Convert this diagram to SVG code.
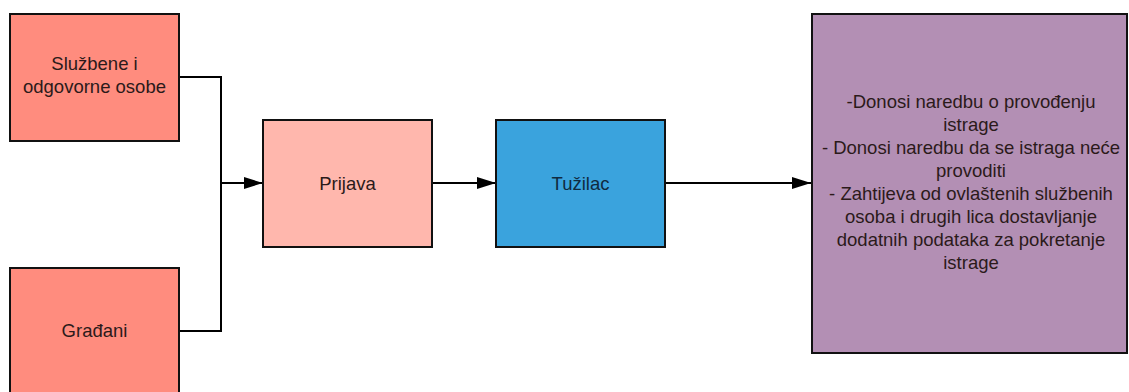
<svg xmlns="http://www.w3.org/2000/svg" width="1129" height="392" viewBox="0 0 1129 392">
<style>
.box{stroke:#111;stroke-width:2}
.lbl{font-family:"Liberation Sans",Arial,sans-serif;font-size:18.5px;fill:#2b1a1a;text-anchor:middle}
.con{fill:none;stroke:#000;stroke-width:2}
</style>
<defs>
<marker id="arr" markerUnits="userSpaceOnUse" markerWidth="20" markerHeight="14" refX="19" refY="7" orient="auto">
<path d="M0,1 L19,7 L0,13 Z" fill="#000"/>
</marker>
</defs>
<rect width="1129" height="392" fill="#fff"/>
<g id="connectors">
<polyline class="con" points="179,77 221,77 221,331 179,331"/>
<line class="con" x1="221" y1="183" x2="263" y2="183" marker-end="url(#arr)"/>
<line class="con" x1="432" y1="183" x2="496" y2="183" marker-end="url(#arr)"/>
<line class="con" x1="665" y1="183" x2="811" y2="183" marker-end="url(#arr)"/>
</g>
<g id="sluzbene">
<rect class="box" x="10" y="14" width="169" height="127" fill="#FF8C7E"/>
<text class="lbl" x="94.5" y="70">Službene i</text>
<text class="lbl" x="94.5" y="93">odgovorne osobe</text>
</g>
<g id="gradjani">
<rect class="box" x="10" y="268" width="169" height="127" fill="#FF8C7E"/>
<text class="lbl" x="94.5" y="337">Građani</text>
</g>
<g id="prijava">
<rect class="box" x="263" y="120" width="169" height="127" fill="#FFB7AD"/>
<text class="lbl" x="347.5" y="190">Prijava</text>
</g>
<g id="tuzilac">
<rect class="box" x="496" y="120" width="169" height="127" fill="#3AA3DD"/>
<text class="lbl" x="580.5" y="190" style="fill:#102a40">Tužilac</text>
</g>
<g id="odluke">
<rect class="box" x="812" y="14" width="315" height="339" fill="#B38FB4"/>
<text class="lbl" x="971" y="108">-Donosi naredbu o provođenju</text>
<text class="lbl" x="971" y="131">istrage</text>
<text class="lbl" x="971" y="154">- Donosi naredbu da se istraga neće</text>
<text class="lbl" x="971" y="177">provoditi</text>
<text class="lbl" x="971" y="200">- Zahtijeva od ovlaštenih službenih</text>
<text class="lbl" x="971" y="223">osoba i drugih lica dostavljanje</text>
<text class="lbl" x="971" y="246">dodatnih podataka za pokretanje</text>
<text class="lbl" x="971" y="269">istrage</text>
</g>
</svg>
